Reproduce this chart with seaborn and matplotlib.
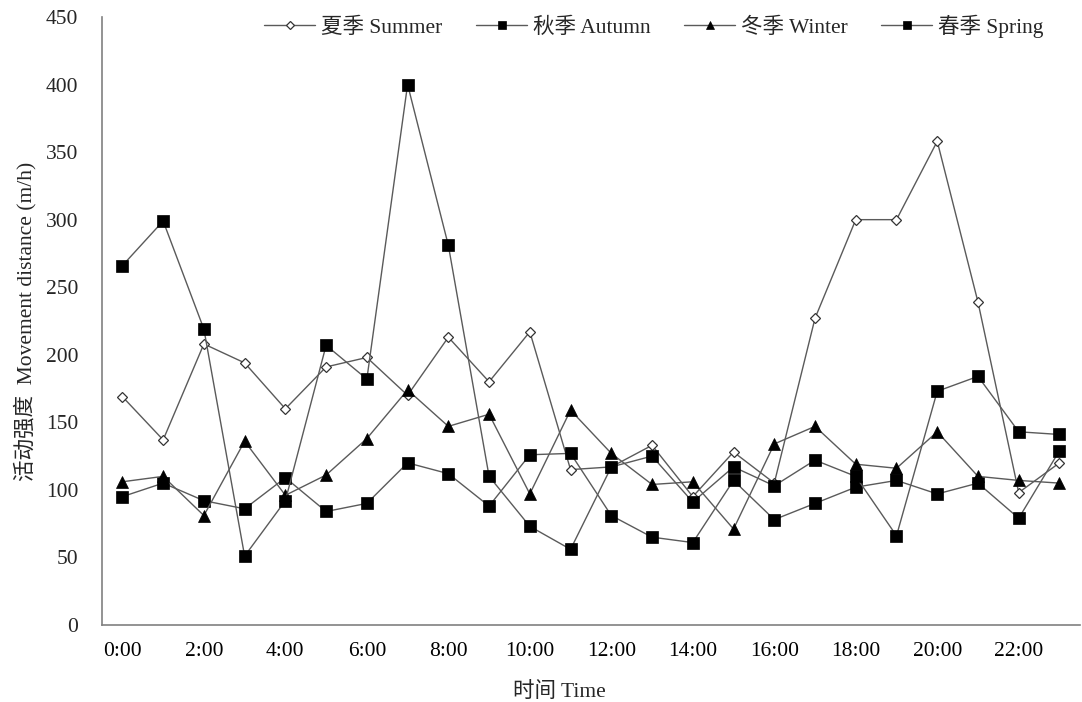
import matplotlib
matplotlib.use("Agg")
import matplotlib.pyplot as plt
import seaborn as sns
import pandas as pd
from matplotlib.ticker import FixedLocator

hours = list(range(24))
hour_labels = [f"{h}:00" for h in range(0, 24, 2)]

summer = [169, 137, 208, 194, 160, 191, 198, 170, 213, 180, 217, 115,
          117, 133, 95, 128, 105, 227, 300, 300, 358, 239, 98, 120]
autumn = [95, 105, 92, 86, 109, 84, 90, 120, 112, 88, 126, 127,
          81, 65, 61, 107, 78, 90, 102, 107, 97, 105, 79, 129]
winter = [106, 110, 81, 136, 96, 111, 138, 174, 147, 156, 97, 159,
          127, 104, 106, 71, 134, 147, 119, 116, 143, 110, 107, 105]
spring = [266, 299, 219, 51, 92, 207, 182, 400, 281, 110, 73, 56,
          117, 125, 91, 117, 103, 122, 110, 66, 173, 184, 143, 141]

series_names = ["夏季 Summer", "秋季 Autumn", "冬季 Winter", "春季 Spring"]
series_values = [summer, autumn, winter, spring]

sns.set_style("white")
plt.rcParams["font.family"] = ["Liberation Serif", "Noto Sans CJK SC"]

FS = 15.5

fig = plt.figure(figsize=(10.82, 7.02), dpi=100)
ax = fig.add_axes([0.0943, 0.1097, 0.9037, 0.8661])

line_color = "#5a5a5a"
styles = [
    dict(marker="D", markersize=5, markerfacecolor="white", markeredgecolor="#333333", markeredgewidth=0.9),
    dict(marker="s", markersize=8, markerfacecolor="black", markeredgecolor="black", markeredgewidth=0.5),
    dict(marker="^", markersize=8, markerfacecolor="black", markeredgecolor="black", markeredgewidth=0.5),
    dict(marker="s", markersize=8, markerfacecolor="black", markeredgecolor="black", markeredgewidth=0.5),
]

for name, vals, st in zip(series_names, series_values, styles):
    df = pd.DataFrame({"hour": hours, "value": vals})
    sns.lineplot(data=df, x="hour", y="value", ax=ax, color=line_color,
                 linewidth=1.0, label=name, **st)

ax.set_xlim(-0.5, 23.5)
ax.set_ylim(0, 450)
ax.set_yticks(range(0, 451, 50))
ax.set_xticks(range(0, 24, 2))
ax.set_xticklabels(hour_labels)
ax.xaxis.set_minor_locator(FixedLocator([i + 0.5 for i in range(23)]))

ax.tick_params(axis="x", which="major", length=0, labelsize=FS, pad=12, colors="black")
ax.tick_params(axis="x", which="minor", length=7, direction="in", color="#808080", width=1)
ax.tick_params(axis="y", which="major", length=7, direction="in", color="#808080",
               width=1, labelsize=FS, pad=17)

for side in ["top", "right"]:
    ax.spines[side].set_visible(False)
for side in ["left", "bottom"]:
    ax.spines[side].set_color("#808080")
    ax.spines[side].set_linewidth(1.2)

ax.set_xlabel("时间 Time", fontsize=FS)
ax.xaxis.set_label_coords(0.468, -0.093)
ax.set_ylabel("活动强度  Movement distance (m/h)", fontsize=FS, labelpad=7)

ax.legend(loc="upper left", bbox_to_anchor=(0.166, 1.004), ncol=4, frameon=False,
          fontsize=FS, handlelength=2.37, handletextpad=0.28, columnspacing=1.55,
          numpoints=1, markerscale=0.75, borderaxespad=0, borderpad=0)

fig.savefig("out.png", dpi=100, facecolor="white")
